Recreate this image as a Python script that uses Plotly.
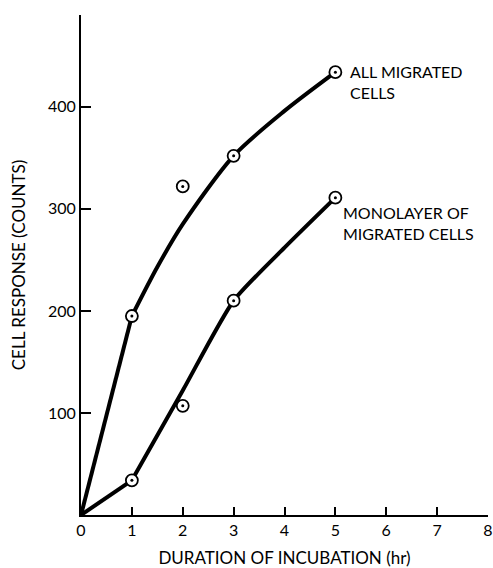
import plotly.graph_objects as go

# Measured data points
hours = [1, 2, 3, 5]
all_migrated = [195, 322, 352, 434]
monolayer = [34, 107, 210, 311]

# Hand-drawn curves
all_curve_x = [0, 1, 1.5, 2, 3, 4, 5]
all_curve_y = [0, 195, 243, 285, 352, 396, 434]
mono_curve_x = [0, 1, 2, 3, 4, 5]
mono_curve_y = [0, 34, 122, 210, 262, 311]

x_ticks = [0, 1, 2, 3, 4, 5, 6, 7, 8]
y_ticks = [100, 200, 300, 400]

FONT = "Lato"
fig = go.Figure()

def add_curve(xs, ys, smooth):
    # straight segment from origin to first point, smooth after
    fig.add_trace(go.Scatter(x=xs[:2], y=ys[:2], mode="lines",
                             line=dict(color="black", width=4), hoverinfo="skip"))
    fig.add_trace(go.Scatter(x=xs[1:], y=ys[1:], mode="lines",
                             line=dict(color="black", width=4, shape="spline", smoothing=smooth),
                             hoverinfo="skip"))

add_curve(all_curve_x, all_curve_y, 0.8)
add_curve(mono_curve_x, mono_curve_y, 0.6)

for ys in (all_migrated, monolayer):
    fig.add_trace(go.Scatter(x=hours, y=ys, mode="markers",
                             marker=dict(symbol="circle", size=12, color="white",
                                         line=dict(color="black", width=1.8))))
    fig.add_trace(go.Scatter(x=hours, y=ys, mode="markers",
                             marker=dict(symbol="circle", size=3, color="black")))

fig.add_annotation(x=5.25, y=424, xref="x", yref="y", text="ALL MIGRATED<br>CELLS",
                   showarrow=False, xanchor="left", yanchor="middle", align="left",
                   font=dict(family=FONT, size=16, color="black"))
fig.add_annotation(x=5.12, y=286, xref="x", yref="y", text="MONOLAYER OF<br>MIGRATED CELLS",
                   showarrow=False, xanchor="left", yanchor="middle", align="left",
                   font=dict(family=FONT, size=16, color="black"))

fig.update_layout(
    width=493, height=568,
    margin=dict(l=81, r=5, t=15, b=53),
    paper_bgcolor="white", plot_bgcolor="white",
    showlegend=False,
    font=dict(family=FONT, size=16, color="black"),
    xaxis=dict(range=[0, 8], tickvals=x_ticks, ticktext=[str(v) for v in x_ticks],
               ticks="inside", ticklen=8, tickwidth=1.5, tickcolor="black",
               showline=True, linecolor="black", linewidth=2, showgrid=False,
               zeroline=False, tickfont=dict(size=16), automargin=False,
               title=dict(text="DURATION OF INCUBATION (hr)", standoff=17,
                          font=dict(family=FONT, size=17))),
    yaxis=dict(range=[0, 490], tickvals=y_ticks, ticktext=[str(v) for v in y_ticks],
               ticks="inside", ticklen=10, tickwidth=1.5, tickcolor="black",
               showline=True, linecolor="black", linewidth=2, showgrid=False,
               zeroline=False, tickfont=dict(size=16), automargin=False,
               title=dict(text="CELL RESPONSE (COUNTS)", standoff=18,
                          font=dict(family=FONT, size=17))),
)

fig.write_html("out.html")
